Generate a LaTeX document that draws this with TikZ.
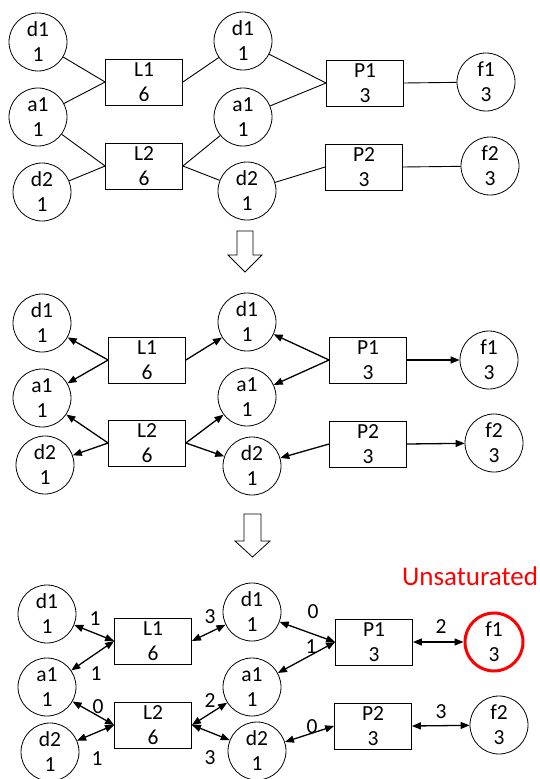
\documentclass[tikz,border=0pt]{standalone}
\usepackage{fontspec}
\setmainfont{Carlito}
\usetikzlibrary{arrows.meta}

\tikzset{
	vert/.style={draw,circle,minimum size=58pt,inner sep=0pt,align=center,line width=.8pt,font=\fontsize{21.5}{25}\selectfont},
	unit/.style={draw,rectangle,minimum width=77pt,minimum height=46pt,inner sep=0pt,align=center,line width=.8pt,font=\fontsize{21.5}{25}\selectfont},
	flowval/.style={inner sep=0pt,font=\fontsize{21.5}{25}\selectfont},
	plain/.style={line width=.9pt},
	dirn/.style={line width=1.3pt,->},
	resid/.style={line width=1.3pt,<->},
}

\begin{document}
\begin{tikzpicture}[x=1pt,y=-1pt,>={Triangle[length=9pt,width=7pt]}]
	\useasboundingbox (0,0) rectangle (539,779);

	% first graph
	\node[vert] (d1la) at (38,42) {d1\\1};
	\node[vert] (a1la) at (38,117) {a1\\1};
	\node[vert] (d2la) at (42,192) {d2\\1};
	\node[unit] (l1a) at (144,82) {L1\\6};
	\node[unit] (l2a) at (144,166) {L2\\6};
	\node[vert] (d1ma) at (243,41) {d1\\1};
	\node[vert] (a1ma) at (243,117) {a1\\1};
	\node[vert] (d2ma) at (247,191) {d2\\1};
	\node[unit] (p1a) at (365,83) {P1\\3};
	\node[unit] (p2a) at (364,167) {P2\\3};
	\node[vert] (f1a) at (486,82) {f1\\3};
	\node[vert] (f2a) at (490,166) {f2\\3};

	\draw[plain] (d1la) -- (l1a.west);
	\draw[plain] (a1la) -- (l1a.west);
	\draw[plain] (a1la) -- (l2a.west);
	\draw[plain] (d2la) -- (l2a.west);
	\draw[plain] (l1a.east) -- (d1ma);
	\draw[plain] (l2a.east) -- (a1ma);
	\draw[plain] (l2a.east) -- (d2ma);
	\draw[plain] (d1ma) -- (p1a.west);
	\draw[plain] (a1ma) -- (p1a.west);
	\draw[plain] (d2ma) -- (p2a.west);
	\draw[plain] (p1a.east) -- (f1a);
	\draw[plain] (p2a.east) -- (f2a);

	\draw[line width=.8pt,fill=white] (237,231)--(253,231)--(253,255)--(262,255)--(245,272)--(228,255)--(237,255)--cycle;

	% second graph
	\node[vert] (d1lb) at (42,323) {d1\\1};
	\node[vert] (a1lb) at (42,398) {a1\\1};
	\node[vert] (d2lb) at (45,465) {d2\\1};
	\node[unit] (l1b) at (147,360) {L1\\6};
	\node[unit] (l2b) at (147,443) {L2\\6};
	\node[vert] (d1mb) at (247,322) {d1\\1};
	\node[vert] (a1mb) at (247,397) {a1\\1};
	\node[vert] (d2mb) at (252,466) {d2\\1};
	\node[unit] (p1b) at (368,360) {P1\\3};
	\node[unit] (p2b) at (368,444) {P2\\3};
	\node[vert] (f1b) at (489,360) {f1\\3};
	\node[vert] (f2b) at (494,443) {f2\\3};

	\draw[dirn] (l1b.west) -- (d1lb);
	\draw[dirn] (l1b.west) -- (a1lb);
	\draw[dirn] (l2b.west) -- (a1lb);
	\draw[dirn] (l2b.west) -- (d2lb);
	\draw[dirn] (l1b.east) -- (d1mb);
	\draw[dirn] (l2b.east) -- (a1mb);
	\draw[dirn] (l2b.east) -- (d2mb);
	\draw[dirn] (p1b.west) -- (d1mb);
	\draw[dirn] (p1b.west) -- (a1mb);
	\draw[dirn] (p2b.west) -- (d2mb);
	\draw[dirn] (p1b.east) -- (f1b);
	\draw[dirn] (p2b.east) -- (f2b);

	\draw[line width=.8pt,fill=white] (244,514)--(261,514)--(261,541)--(270,541)--(252.5,557)--(235,541)--(244,541)--cycle;

	% third graph
	\node[vert] (d1lc) at (47,614) {d1\\1};
	\node[vert] (a1lc) at (47,687) {a1\\1};
	\node[vert] (d2lc) at (50,752) {d2\\1};
	\node[unit] (l1c) at (153,641) {L1\\6};
	\node[unit] (l2c) at (153,725) {L2\\6};
	\node[vert] (d1mc) at (252,612) {d1\\1};
	\node[vert] (a1mc) at (252,687) {a1\\1};
	\node[vert] (d2mc) at (257,751) {d2\\1};
	\node[unit] (p1c) at (374,642) {P1\\3};
	\node[unit] (p2c) at (373,726) {P2\\3};
	\node[vert,draw=red,line width=3pt] (f1c) at (494,642) {f1\\3};
	\node[vert] (f2c) at (499,725) {f2\\3};
	\node[text=red,anchor=base,font=\fontsize{27}{30}\selectfont] (unsat) at (470,585) {Unsaturated};

	\draw[resid] (d1lc) -- (l1c.west);
	\draw[resid] (a1lc) -- (l1c.west);
	\draw[resid] (a1lc) -- (l2c.west);
	\draw[resid] (d2lc) -- (l2c.west);
	\draw[resid] (l1c.east) -- (d1mc);
	\draw[resid] (l2c.east) -- (a1mc);
	\draw[resid] (l2c.east) -- (d2mc);
	\draw[resid] (d1mc) -- (p1c.west);
	\draw[resid] (a1mc) -- (p1c.west);
	\draw[resid] (d2mc) -- (p2c.west);
	\draw[resid] (p1c.east) -- (f1c);
	\draw[resid] (p2c.east) -- (f2c);

	\node[flowval] (v1) at (95,619) {1};
	\node[flowval] (v2) at (96,674) {1};
	\node[flowval] (v3) at (98,707) {0};
	\node[flowval] (v4) at (97,759) {1};
	\node[flowval] (v5) at (210,617) {3};
	\node[flowval] (v6) at (210,701) {2};
	\node[flowval] (v7) at (210,758) {3};
	\node[flowval] (v8) at (313,612) {0};
	\node[flowval] (v9) at (311,647) {1};
	\node[flowval] (v10) at (312,727) {0};
	\node[flowval] (v11) at (441,627) {2};
	\node[flowval] (v12) at (441,712) {3};
\end{tikzpicture}
\end{document}
